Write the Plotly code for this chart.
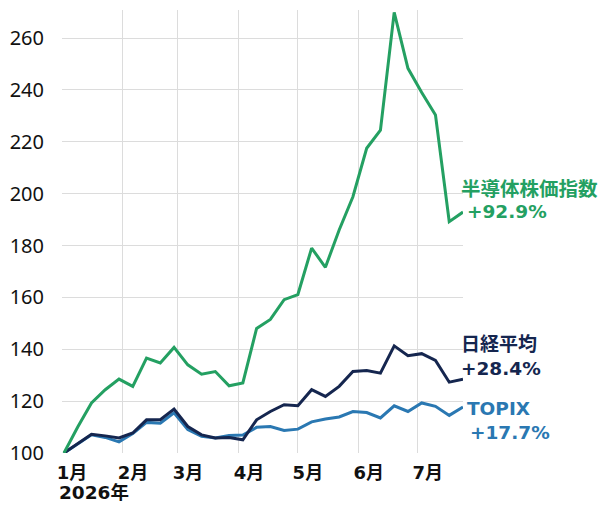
import plotly.graph_objects as go

dates = ["2026-01-02", "2026-01-09", "2026-01-16", "2026-01-23", "2026-01-30",
         "2026-02-06", "2026-02-13", "2026-02-20", "2026-02-27", "2026-03-06",
         "2026-03-13", "2026-03-20", "2026-03-27", "2026-04-03", "2026-04-10",
         "2026-04-17", "2026-04-24", "2026-05-01", "2026-05-08", "2026-05-15",
         "2026-05-22", "2026-05-29", "2026-06-05", "2026-06-12", "2026-06-19",
         "2026-06-26", "2026-07-03", "2026-07-10", "2026-07-17", "2026-07-24"]

semis = [100, 110, 119.3, 124.4, 128.5, 125.7, 136.6, 134.7, 140.7, 134.0,
         130.4, 131.4, 125.9, 127.0, 148.0, 151.5, 159.1, 161.1, 179.0, 171.6,
         186.0, 198.8, 217.5, 224.5, 269.9, 248.3, 239.0, 230.3, 189.2, 192.9]

nikkei = [100, 103.5, 107.2, 106.6, 105.8, 107.7, 112.8, 112.8, 116.9, 110.2,
          107.0, 105.8, 106.0, 105.1, 112.8, 116.0, 118.6, 118.2, 124.4, 121.8,
          125.7, 131.4, 131.8, 130.8, 141.3, 137.5, 138.3, 135.7, 127.3, 128.4]

topix = [100, 103.5, 107.0, 106.0, 104.3, 107.5, 111.8, 111.5, 115.5, 109.0,
         106.4, 105.8, 106.7, 106.9, 109.9, 110.2, 108.7, 109.2, 112.0, 113.1,
         113.9, 116.0, 115.6, 113.5, 118.2, 116.0, 119.3, 118.0, 114.5, 117.7]

month_ticks = ["2026-01-01", "2026-02-01", "2026-03-01", "2026-04-01",
               "2026-05-01", "2026-06-01", "2026-07-01"]
month_labels = ["1月", "2月", "3月", "4月", "5月", "6月", "7月"]
year_label = "2026年"

y_ticks = [100, 120, 140, 160, 180, 200, 220, 240, 260]

GREEN = "#24a062"
NAVY = "#15264f"
BLUE = "#2a78b2"

LAB_FONT = "DejaVu Sans, Noto Sans CJK JP, sans-serif"

W, H = 600, 505
ML, MR, MT, MB = 60, 137, 10, 52
PW = W - ML - MR
PH = H - MT - MB

def px_to_paper(px, py):
    return (px - ML) / PW, (H - MB - py) / PH

fig = go.Figure()
fig.add_trace(go.Scatter(x=dates, y=topix, mode="lines", name="TOPIX",
                         line=dict(color=BLUE, width=3)))
fig.add_trace(go.Scatter(x=dates, y=nikkei, mode="lines", name="日経平均",
                         line=dict(color=NAVY, width=3)))
fig.add_trace(go.Scatter(x=dates, y=semis, mode="lines", name="半導体株価指数",
                         line=dict(color=GREEN, width=3)))

labels = [
    ("半導体株価指数", 459, 189, GREEN, 19.5),
    ("+92.9%", 465, 211, GREEN, 18.5),
    ("日経平均", 459, 344, NAVY, 19),
    ("+28.4%", 459, 368, NAVY, 18.5),
    ("TOPIX", 465, 408, BLUE, 18.5),
    ("+17.7%", 468, 432, BLUE, 18.5),
]
annotations = []
for text, px, py, col, sz in labels:
    xp, yp = px_to_paper(px, py)
    annotations.append(dict(text=f"<b>{text}</b>", xref="paper", yref="paper",
                            x=xp, y=yp, xanchor="left", yanchor="middle",
                            showarrow=False,
                            font=dict(family=LAB_FONT, size=sz, color=col)))

annotations.append(dict(text=f"<b>{year_label}</b>", xref="paper", yref="paper",
                        x=0, y=0, xanchor="left", yanchor="middle",
                        xshift=-5, yshift=-39, showarrow=False,
                        font=dict(family=LAB_FONT, size=18.5, color="#111111")))

fig.update_layout(
    width=W, height=H,
    margin=dict(l=ML, r=MR, t=MT, b=MB, pad=0),
    paper_bgcolor="white", plot_bgcolor="white",
    showlegend=False,
    annotations=annotations,
    xaxis=dict(
        type="date",
        range=["2026-01-01", "2026-07-24"],
        tickmode="array", tickvals=month_ticks,
        ticktext=[f"<b>{m}</b>" for m in month_labels],
        ticklabelshift=10, ticklabelstandoff=7,
        showgrid=True, gridcolor="#dcdcdc", gridwidth=1,
        zeroline=False, showline=False, ticks="",
        tickfont=dict(family=LAB_FONT, size=18, color="#111111"),
    ),
    yaxis=dict(
        range=[100, 270.8],
        tickmode="array", tickvals=y_ticks,
        showgrid=True, gridcolor="#dcdcdc", gridwidth=1,
        zeroline=False, showline=False, ticks="",
        ticklabelstandoff=17,
        tickfont=dict(family="Noto Sans, sans-serif", size=20, color="#111111"),
    ),
)

fig.write_html("out.html",
               config={"displayModeBar": False},
               post_script="document.body.style.margin='0';document.body.style.padding='0';")
